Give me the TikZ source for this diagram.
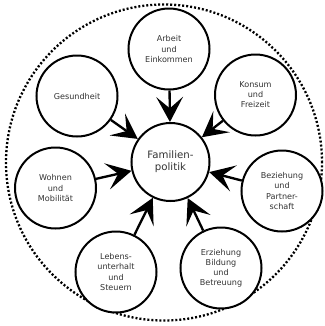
\documentclass[tikz,border=0pt]{standalone}
\usepackage{fontspec}
\setmainfont{DejaVu Sans}
\usetikzlibrary{positioning, arrows.meta}
\definecolor{cText}{HTML}{333333}

\begin{document}
\begin{tikzpicture}[
  x=0.03cm, y=-0.03cm,
  field/.style={
    circle, draw=black, fill=white, line width=0.06cm,
    minimum size=2.43cm, inner sep=0pt, align=center,
    text=cText, font=\fontsize{6.9}{8.6}\selectfont
  },
  hub/.style={
    field, minimum size=2.34cm, font=\fontsize{8.7}{10.2}\selectfont
  },
  feed/.style={
    line width=0.07cm,
    -{Stealth[length=0.75cm, width=0.8cm, inset=0.34cm]}
  },
]
\useasboundingbox (0,0) rectangle (324,326);

% outer frame
\draw[line width=0.07cm, dash pattern=on 0.06cm off 0.06cm]
  (164,162.5) circle (4.74cm);

% centre
\node[hub] (fam) at (170.5,162) {Familien-\\politik};

% surrounding fields
\node[field] (arbeit)  at (169,49)   {Arbeit\\und\\Einkommen};
\node[field] (konsum)  at (255.5,95) {Konsum\\und\\Freizeit};
\node[field] (bezieh)  at (282,191)  {Beziehung\\und\\Partner-\\schaft};
\node[field] (erzieh)  at (221,268)  {Erziehung\\Bildung\\und\\Betreuung};
\node[field] (lebens)  at (116,272)  {Lebens-\\unterhalt\\und\\Steuern};
\node[field] (wohnen)  at (55.5,188) {Wohnen\\und\\Mobilität};
\node[field] (gesund)  at (77,96)    {Gesundheit};

% influences
\foreach \src in {arbeit, konsum, bezieh, erzieh, lebens, wohnen, gesund}
  \draw[feed] (\src) -- (fam);

\end{tikzpicture}
\end{document}
